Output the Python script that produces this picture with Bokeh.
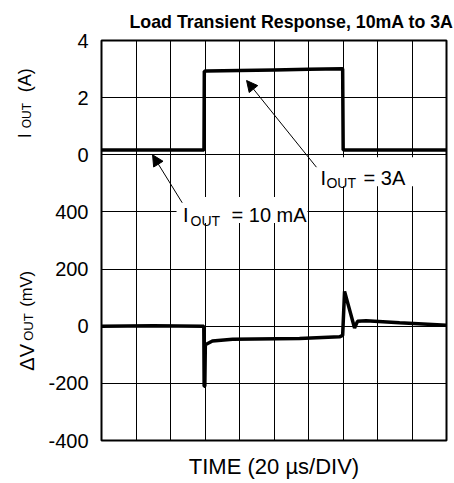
import math
from bokeh.plotting import figure
from bokeh.layouts import row
from bokeh.models import Range1d, FixedTicker, Label, Arrow, NormalHead, Title
from bokeh.embed import file_html
from bokeh.resources import INLINE

# ---- data ----
time_i = [0, 59.4, 59.6, 61, 80, 100, 120, 139.6, 139.8, 140.1, 200]          # µs
iout = [0.17, 0.17, 2.92, 2.93, 2.95, 2.97, 2.99, 3.01, 3.01, 0.17, 0.17]       # A

time_v = [0, 30, 59.3, 59.5, 59.9, 60.2, 64.3, 76, 114.8, 138, 139.8, 140.9,
          146.7, 148.4, 153.4, 172.8, 200]                                       # µs
dvout = [0, 2, 0, -210, -210, -65, -52, -46, -43, -37, -32, 122,
         -6, 17, 19, 12, 3]                                                      # mV

time_ticks = [0, 20, 40, 60, 80, 100, 120, 140, 160, 180, 200]
i_ticks = [0, 2, 4]
mv_ticks = [-400, -200, 0, 200, 400]
i_range = (-10, 4)
mv_range = (-400, 1000)

FONT = "Liberation Sans"
TOP, BOTTOM = 39, 42
HEIGHT = 482

p = figure(width=414, height=HEIGHT, output_backend="svg", toolbar_location=None,
           x_range=Range1d(time_ticks[0], time_ticks[-1]),
           y_range=Range1d(*i_range), title=None,
           min_border_left=62, min_border_right=7, min_border_top=TOP,
           min_border_bottom=BOTTOM)
p.extra_y_ranges = {"mv": Range1d(*mv_range)}
p.background_fill_color = "white"
p.border_fill_color = "white"
p.outline_line_color = "black"
p.outline_line_width = 2

def mv_to_i(v):
    return i_range[0] + (v - mv_range[0]) / (mv_range[1] - mv_range[0]) * (i_range[1] - i_range[0])

mv_pos = [int(round(mv_to_i(v))) for v in mv_ticks]
all_ticks = mv_pos + i_ticks
overrides = {pos: str(v) for pos, v in zip(mv_pos, mv_ticks)}
overrides.update({t: str(t) for t in i_ticks})

yax = p.yaxis[0]
yax.ticker = FixedTicker(ticks=all_ticks)
yax.major_label_overrides = overrides
yax.axis_line_color = None
yax.major_tick_line_color = None
yax.minor_tick_line_color = None
yax.major_tick_in = 0
yax.major_tick_out = 0
yax.major_label_standoff = 13
yax.major_label_text_font = FONT
yax.major_label_text_font_size = "20px"
yax.major_label_text_color = "black"

# x axis: only its title is shown (the 20 µs divisions are the grid)
xax = p.xaxis[0]
xax.ticker = FixedTicker(ticks=[])
xax.axis_line_color = None
xax.major_tick_line_color = None
xax.minor_tick_line_color = None
xax.major_tick_in = 0
xax.major_tick_out = 0
xax.major_label_standoff = 0
xax.axis_label = "TIME (20 µs/DIV)"
xax.axis_label_standoff = 13
xax.axis_label_text_font = FONT
xax.axis_label_text_font_size = "22px"
xax.axis_label_text_font_style = "normal"
xax.axis_label_text_color = "black"

p.xgrid.ticker = FixedTicker(ticks=time_ticks)
p.ygrid.ticker = FixedTicker(ticks=all_ticks)
for g in (p.xgrid[0], p.ygrid[0]):
    g.grid_line_color = "black"
    g.grid_line_width = 1
    g.grid_line_alpha = 1

# title
p.add_layout(Title(text="Load Transient Response, 10mA to 3A", text_font=FONT,
                   text_font_size="17.8px", text_font_style="bold", text_color="black",
                   align="left", offset=28, standoff=18), "above")

# white boxes behind annotation text
p.quad(left=[125.2, 43.5], right=[182.0, 119.4], top=[-0.085, -1.48],
       bottom=[-1.098, -2.39], fill_color="white", line_color=None)

# traces
p.line(time_i, iout, line_color="black", line_width=3.5)
p.line(time_v, dvout, line_color="black", line_width=3.5, y_range_name="mv")

# arrows
for xs, ys, xe, ye in [(124.6, -0.434, 84.1, 2.60), (46.8, -1.68, 29.6, 0.0)]:
    p.add_layout(Arrow(x_start=xs, y_start=ys, x_end=xe, y_end=ye,
                       line_color="black", line_width=1,
                       end=NormalHead(size=11, line_color="black", fill_color="black",
                                      line_width=1)))

def lab(fig, x, y, text, size, align="left", style="normal", angle=0.0):
    fig.add_layout(Label(x=x, y=y, text=text, text_font=FONT, text_font_size=size,
                         text_font_style=style, text_align=align,
                         text_baseline="alphabetic", angle=angle, text_color="black"))

# annotations
lab(p, 126.96, -0.818, "I", "20px")
lab(p, 130.4, -0.993, "OUT", "14px")
lab(p, 151.9, -0.818, "= 3A", "20px")
lab(p, 47.2, -2.11, "I", "20px")
lab(p, 51.6, -2.319, "OUT", "14px")
lab(p, 75.4, -2.11, "= 10 mA", "20px")

# left strip holding the rotated y-axis titles (same vertical scale as p)
q = figure(width=39, height=HEIGHT, output_backend="svg", toolbar_location=None,
           x_range=Range1d(0, 39), y_range=p.y_range, title=None,
           min_border_left=0, min_border_right=0, min_border_top=TOP,
           min_border_bottom=BOTTOM)
q.axis.visible = False
q.grid.visible = False
q.outline_line_color = None
q.background_fill_color = "white"
q.border_fill_color = "white"

A = math.pi / 2
lab(q, 24.5, 0.579, "I", "18px", angle=A)
lab(q, 26.5, 0.928, "OUT", "12px", angle=A)
lab(q, 24.5, 2.185, "(A)", "18px", angle=A)
lab(q, 26.5, -7.556, "ΔV", "20px", angle=A)
lab(q, 28.0, -6.509, "OUT", "13px", angle=A)
lab(q, 25.5, -5.322, "(mV)", "16.5px", angle=A)

layout = row(q, p)
open("out.html", "w").write(file_html(layout, INLINE))
